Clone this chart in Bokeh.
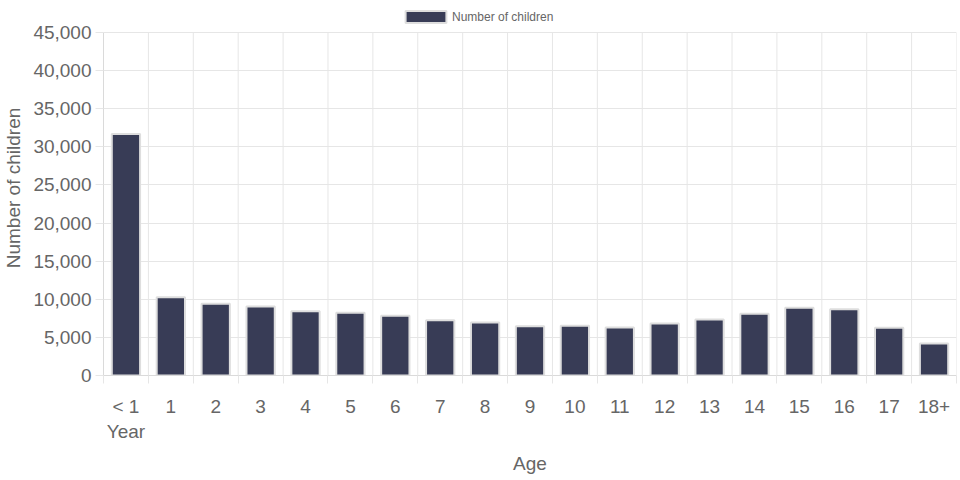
from bokeh.plotting import figure
from bokeh.models import (ColumnDataSource, FixedTicker, NumeralTickFormatter, Range1d,
                          Legend, LegendItem)
from bokeh.embed import file_html
from bokeh.resources import INLINE

ages = ["< 1\nYear", "1", "2", "3", "4", "5", "6", "7", "8", "9", "10",
        "11", "12", "13", "14", "15", "16", "17", "18+"]
children = [31700, 10250, 9400, 9050, 8440, 8230, 7830, 7260, 6950, 6470,
            6520, 6300, 6820, 7350, 8090, 8880, 8700, 6260, 4200]
y_ticks = [0, 5000, 10000, 15000, 20000, 25000, 30000, 35000, 40000, 45000]
series_name = "Number of children"
x_title = "Age"
y_title = "Number of children"

n = len(ages)
centers = [i + 0.5 for i in range(n)]
bounds = list(range(n + 1))

FONT = "Liberation Sans"
TXT = "#666666"
GRID = "#e6e6e6"
AXIS = "#dadada"

# layout (pixels)
W, H = 960, 480
BORDER_L, BORDER_R, BORDER_B = 103, 4, 105
LEGEND_SPACE = 32          # space above the 45,000 line reserved for the legend
frame_h = H - BORDER_B
y_max = y_ticks[-1] * frame_h / (frame_h - LEGEND_SPACE)

src = ColumnDataSource(dict(x=centers, count=children, age=ages))
grid_src = ColumnDataSource(dict(x=bounds, y0=[y_ticks[0]] * len(bounds),
                                 y1=[y_ticks[-1]] * len(bounds)))

p = figure(width=W, height=H, output_backend="svg",
           toolbar_location=None,
           x_range=Range1d(0, n), y_range=Range1d(y_ticks[0], y_max),
           min_border_left=BORDER_L, min_border_right=BORDER_R, min_border_top=0,
           min_border_bottom=BORDER_B)
p.outline_line_color = None
p.background_fill_color = "white"
p.border_fill_color = "white"

# vertical grid lines at category boundaries (stop at the top tick)
p.segment(x0="x", y0="y0", x1="x", y1="y1", source=grid_src,
          line_color=GRID, line_width=1, level="underlay")

r = p.vbar(x="x", top="count", bottom=0, width=0.63, source=src,
           fill_color="#383c56", line_color="#dedede", line_width=2)

# x axis
p.xaxis.ticker = FixedTicker(ticks=centers, minor_ticks=bounds)
p.xaxis.major_label_overrides = {float(c): a for c, a in zip(centers, ages)}
p.xaxis.major_tick_line_color = None
p.xaxis.major_tick_out = 8
p.xaxis.major_tick_in = 0
p.xaxis.minor_tick_line_color = GRID
p.xaxis.minor_tick_out = 8
p.xaxis.minor_tick_in = 0
p.xaxis.axis_line_color = AXIS
p.xaxis.major_label_standoff = 12
p.xaxis.major_label_text_font = FONT
p.xaxis.major_label_text_font_size = "19px"
p.xaxis.major_label_text_color = TXT
p.xaxis.axis_label = x_title
p.xaxis.axis_label_text_font = FONT
p.xaxis.axis_label_text_font_size = "19px"
p.xaxis.axis_label_text_font_style = "normal"
p.xaxis.axis_label_text_color = TXT
p.xaxis.axis_label_standoff = 8
p.xgrid.visible = False

# y axis
p.yaxis.ticker = FixedTicker(ticks=y_ticks)
p.yaxis.bounds = (y_ticks[0], y_ticks[-1])
p.yaxis.formatter = NumeralTickFormatter(format="0,0")
p.yaxis.major_tick_line_color = GRID
p.yaxis.major_tick_out = 8
p.yaxis.major_tick_in = 0
p.yaxis.minor_tick_line_color = None
p.yaxis.axis_line_color = AXIS
p.yaxis.major_label_standoff = 4
p.yaxis.major_label_text_font = FONT
p.yaxis.major_label_text_font_size = "19px"
p.yaxis.major_label_text_color = TXT
p.yaxis.axis_label = y_title
p.yaxis.axis_label_text_font = FONT
p.yaxis.axis_label_text_font_size = "19px"
p.yaxis.axis_label_text_font_style = "normal"
p.yaxis.axis_label_text_color = TXT
p.yaxis.axis_label_standoff = 6
p.ygrid.grid_line_color = GRID

legend = Legend(items=[LegendItem(label=series_name, renderers=[r])],
                location=(297, frame_h - 24), orientation="horizontal",
                glyph_width=51, glyph_height=15, label_standoff=1,
                label_text_font=FONT, label_text_font_size="12px",
                label_text_color=TXT, padding=0, margin=0,
                border_line_color=None, background_fill_alpha=0)
p.add_layout(legend, "center")

open("out.html", "w").write(file_html(p, INLINE))
